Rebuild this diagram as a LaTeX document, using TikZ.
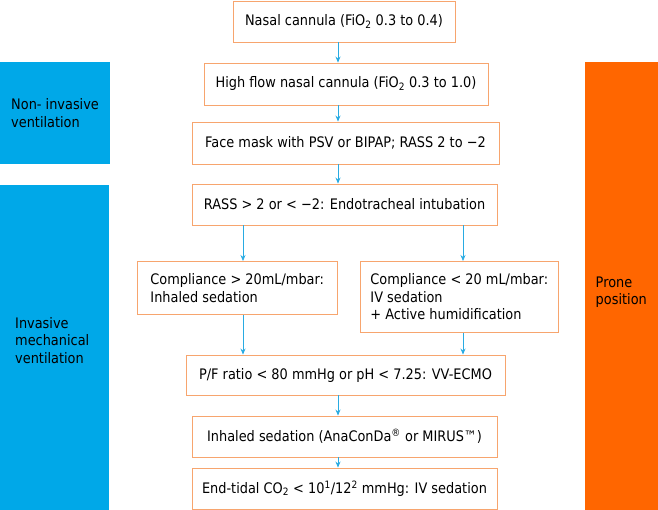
\documentclass[tikz,border=0pt]{standalone}
\usepackage{fontspec}
\setmainfont{DejaVu Sans}[FakeStretch=0.89]
\usetikzlibrary{arrows.meta,positioning}
\definecolor{sideblue}{RGB}{0,168,232}
\definecolor{sideorange}{RGB}{255,102,0}
\definecolor{boxline}{RGB}{247,165,110}
\definecolor{arrblue}{RGB}{41,171,226}

\begin{document}
\begin{tikzpicture}[x=1pt,y=-1pt, every node/.style={font=\fontsize{14.5}{17.5}\selectfont},
 box/.style={draw=boxline,line width=0.9pt,align=center,minimum height=41pt,inner sep=0pt},
 lbox/.style={draw=boxline,line width=0.9pt,align=left,anchor=north west,inner xsep=12pt,inner ysep=0pt},
 side/.style={fill=sideblue,align=flush left,anchor=north west,inner ysep=0pt},
 arr/.style={-{Stealth[length=6pt,width=5pt]},arrblue,line width=0.7pt}]
\useasboundingbox (0,0) rectangle (658,510);
\node[side,minimum width=110pt,minimum height=102pt,inner xsep=11pt,text width=88pt](niv) at (0,62){Non- invasive\\ventilation};
\node[side,minimum width=109pt,minimum height=325pt,inner xsep=15pt,text width=79pt](imv) at (0,185){Invasive\\mechanical\\ventilation\\[-3pt]\mbox{}};
\node[side,fill=sideorange,minimum width=73pt,minimum height=448pt,inner xsep=10.5pt,text width=52pt,text depth=8pt](prone) at (585,62){Prone\\position};
\node[box,minimum width=222pt](b1) at (344,21.5){Nasal cannula (FiO\textsubscript{2} 0.3 to 0.4)};
\node[box,minimum width=284pt,minimum height=42pt](b2) at (346,84){High flow nasal cannula (FiO\textsubscript{2} 0.3 to 1.0)};
\node[box,minimum width=307pt,minimum height=42pt](b3) at (345.5,143){Face mask with PSV or BIPAP; RASS 2 to −2};
\node[box,minimum width=305pt](b4) at (344.5,204.5){RASS > 2 or < −2: Endotracheal intubation};
\node[lbox,minimum width=197pt,minimum height=53pt,inner xsep=13pt](c1) at (137,261){Compliance > 20mL/mbar:\\Inhaled sedation};
\node[lbox,minimum width=194pt,minimum height=71pt,inner xsep=10pt](c2) at (360,261){Compliance < 20 mL/mbar:\\IV sedation\\+ Active humidification};
\node[box,minimum width=319pt,minimum height=40pt](b7) at (345.5,375){P/F ratio < 80 mmHg or pH < 7.25: VV-ECMO};
\node[box,minimum width=305pt](b8) at (344.5,436.5){Inhaled sedation (AnaConDa\textsuperscript{®} or MIRUS™)};
\node[box,minimum width=305pt](b9) at (344.5,488.5){End-tidal CO\textsubscript{2} < 10\textsuperscript{1}/12\textsuperscript{2} mmHg: IV sedation};
\coordinate (ax) at (338,0);\coordinate (lx) at (243,0);\coordinate (rx) at (463,0);
\draw[arr](b1.south -| ax)--(b2.north -| ax);\draw[arr](b2.south -| ax)--(b3.north -| ax);\draw[arr](b3.south -| ax)--(b4.north -| ax);
\draw[arr](b4.south -| lx)--(c1.north -| lx);\draw[arr](b4.south -| rx)--(c2.north -| rx);
\draw[arr](c1.south -| lx)--(b7.north -| lx);\draw[arr](c2.south -| rx)--(b7.north -| rx);
\draw[arr](b7.south -| ax)--(b8.north -| ax);\draw[arr](b8.south -| ax)--(b9.north -| ax);
\end{tikzpicture}
\end{document}
